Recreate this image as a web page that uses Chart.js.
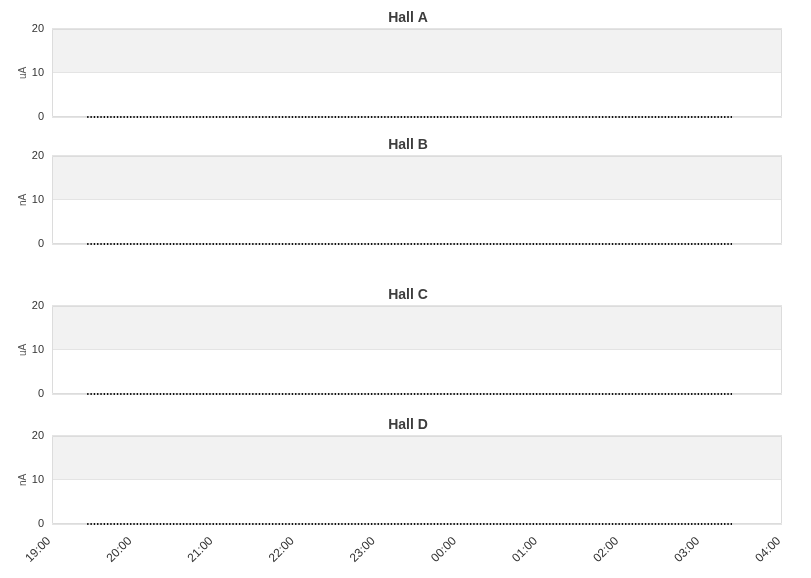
<!DOCTYPE html>
<html>
<head>
<meta charset="utf-8">
<script src="https://cdn.jsdelivr.net/npm/chart.js@4/dist/chart.umd.min.js"></script>
<style>
  html, body { margin: 0; padding: 0; background: #fff; }
  #wrap { position: relative; width: 811px; height: 578px; overflow: hidden; }
  canvas { position: absolute; left: 0; }
</style>
</head>
<body>
<div id="wrap">
  <canvas id="cA" width="811" height="125" style="top:0px"></canvas>
  <canvas id="cB" width="811" height="125" style="top:127px"></canvas>
  <canvas id="cC" width="811" height="125" style="top:277px"></canvas>
  <canvas id="cD" width="811" height="171" style="top:407px"></canvas>
</div>
<script>
// ---- data ----
const hallNames = ['Hall A', 'Hall B', 'Hall C', 'Hall D'];
const hallUnits = ['uA', 'nA', 'uA', 'nA'];
const sampleTimes = ['19:26', '03:23'];
const hallA = [0, 0];
const hallB = [0, 0];
const hallC = [0, 0];
const hallD = [0, 0];
const axisStart = '19:00';
const axisEnd = '04:00';
const yTicks = [0, 10, 20];

// minutes since axis start
function toMin(t) {
  const [h, m] = t.split(':').map(Number);
  const [h0, m0] = axisStart.split(':').map(Number);
  let d = (h * 60 + m) - (h0 * 60 + m0);
  if (d < 0) d += 24 * 60;
  return d;
}
function fmt(min) {
  const [h0, m0] = axisStart.split(':').map(Number);
  const tot = (h0 * 60 + m0 + min) % (24 * 60);
  const h = Math.floor(tot / 60), m = tot % 60;
  return String(h).padStart(2, '0') + ':' + String(m).padStart(2, '0');
}

const frame = {
  id: 'frame',
  beforeDraw(chart) {
    const { ctx, chartArea: a, scales: { y } } = chart;
    ctx.save();
    ctx.fillStyle = '#f2f2f2';
    const t = y.getPixelForValue(yTicks[2]), b = y.getPixelForValue(yTicks[1]);
    ctx.fillRect(a.left, t, a.right - a.left, b - t);
    ctx.restore();
  },
  beforeDatasetsDraw(chart) {
    const { ctx, chartArea: a } = chart;
    ctx.save();
    ctx.strokeStyle = '#dcdcdc';
    ctx.lineWidth = 1;
    const l = Math.round(a.left) + 0.5, r = Math.round(a.right) - 0.5;
    const t = Math.round(a.top) + 0.5, b = Math.round(a.bottom) - 0.5;
    ctx.beginPath();
    ctx.moveTo(l, t); ctx.lineTo(r, t); ctx.lineTo(r, b); ctx.lineTo(l, b); ctx.closePath();
    ctx.stroke();
    ctx.restore();
  }
};

function makePanel(id, name, unit, values, showX) {
  const pts = sampleTimes.map((t, i) => ({ x: toMin(t), y: values[i] }));
  const xScale = {
    type: 'linear',
    display: showX,
    min: 0,
    max: toMin(axisEnd),
    grid: { display: false },
    border: { display: false },
    ticks: {
      stepSize: 60,
      autoSkip: false,
      maxRotation: 45,
      minRotation: 45,
      padding: 2,
      labelOffset: -3,
      color: '#333',
      font: { family: 'Liberation Sans', size: 12 },
      callback: (v) => fmt(v)
    }
  };
  if (showX) xScale.afterFit = (s) => { s.height = 54; };
  new Chart(document.getElementById(id), {
    type: 'line',
    data: {
      datasets: [{
        data: pts,
        borderColor: '#111',
        borderWidth: 2,
        borderDash: [1.4, 1.9],
        pointRadius: 0,
        fill: false,
        clip: false,
        tension: 0
      }]
    },
    options: {
      responsive: false,
      animation: false,
      devicePixelRatio: 1,
      layout: { padding: { left: 17, right: 12, top: 0, bottom: showX ? 0 : 8 } },
      plugins: {
        legend: { display: false },
        tooltip: { enabled: false },
        title: {
          display: true,
          text: name,
          color: '#3d3d3d',
          font: { family: 'Liberation Sans', size: 14, weight: 'bold' },
          padding: { top: 10, bottom: 2 }
        }
      },
      scales: {
        x: xScale,
        y: {
          min: yTicks[0],
          max: yTicks[2],
          afterBuildTicks: (s) => { s.ticks = yTicks.map(v => ({ value: v })); },
          grid: { color: '#e4e4e4', drawTicks: false },
          border: { display: false },
          ticks: {
            padding: 8,
            color: '#333',
            font: { family: 'Liberation Sans', size: 11 }
          },
          title: {
            display: true,
            text: unit,
            color: '#555',
            font: { family: 'Liberation Sans', size: 10 },
            padding: { top: 0, bottom: 0 }
          },
          afterFit: (s) => { s.width = 35; s.paddingBottom = 0; s.paddingTop = 0; }
        },
        yPad: {
          position: 'right',
          display: true,
          min: yTicks[0],
          max: yTicks[2],
          grid: { display: false, drawTicks: false },
          border: { display: false },
          ticks: { display: false },
          afterFit: (s) => { s.width = 17; s.paddingBottom = 0; s.paddingTop = 0; }
        }
      }
    },
    plugins: [frame]
  });
}

makePanel('cA', hallNames[0], hallUnits[0], hallA, false);
makePanel('cB', hallNames[1], hallUnits[1], hallB, false);
makePanel('cC', hallNames[2], hallUnits[2], hallC, false);
makePanel('cD', hallNames[3], hallUnits[3], hallD, true);
</script>
</body>
</html>
